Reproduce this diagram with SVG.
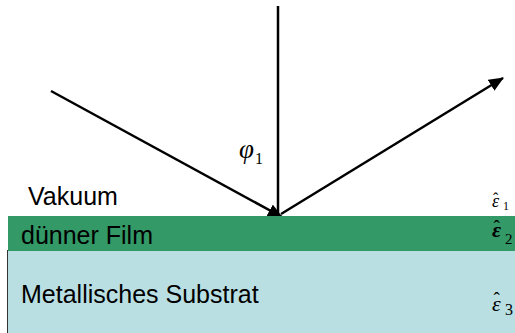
<svg xmlns="http://www.w3.org/2000/svg" width="515" height="333" viewBox="0 0 515 333">
<style>
.lbl{font-family:"Liberation Sans",Arial,sans-serif;font-size:25px;fill:#000}
.ray{stroke:#000;stroke-width:2.5;fill:none}
.sym{font-family:"Liberation Serif","Times New Roman",serif;fill:#000}
.it{font-style:italic}
</style>
<defs>
<marker id="ah" markerUnits="userSpaceOnUse" markerWidth="15" markerHeight="13" refX="14" refY="6.5" orient="auto" viewBox="0 0 15 13">
<path d="M0,0 L15,6.5 L0,13 z" fill="#000"/>
</marker>
</defs>
<rect width="515" height="333" fill="#fff"/>
<g id="connectors">
<line class="ray" x1="51" y1="91" x2="282" y2="217" marker-end="url(#ah)"/>
<line class="ray" x1="278" y1="6" x2="278" y2="216"/>
<line class="ray" x1="281" y1="214" x2="503" y2="78" marker-end="url(#ah)"/>
</g>
<g id="substrat">
<rect x="7.5" y="250.5" width="520" height="100" fill="#b9dfe3" stroke="#333" stroke-width="1"/>
<text class="lbl" x="21" y="303">Metallisches Substrat</text>
<text class="sym"><tspan class="it" x="492" y="311" font-size="22">ε</tspan><tspan x="493.5" y="305" font-size="19">ˆ</tspan><tspan x="505" y="315" font-size="16">3</tspan></text>
</g>
<g id="film">
<rect x="8" y="216" width="520" height="35" fill="#339966"/>
<text class="lbl" x="21" y="244">dünner Film</text>
<text class="sym"><tspan class="it" x="492" y="237" font-size="22" font-weight="bold">ε</tspan><tspan x="493.5" y="233" font-size="19">ˆ</tspan><tspan x="505" y="244" font-size="15">2</tspan></text>
</g>
<g id="vakuum">
<text class="lbl" x="28" y="205">Vakuum</text>
<text class="sym"><tspan class="it" x="492" y="207" font-size="18">ε</tspan><tspan x="493" y="204" font-size="16">ˆ</tspan><tspan x="503" y="210" font-size="12">1</tspan></text>
<text class="sym"><tspan class="it" x="239" y="158" font-size="27">φ</tspan><tspan x="255" y="164" font-size="16">1</tspan></text>
</g>
</svg>
